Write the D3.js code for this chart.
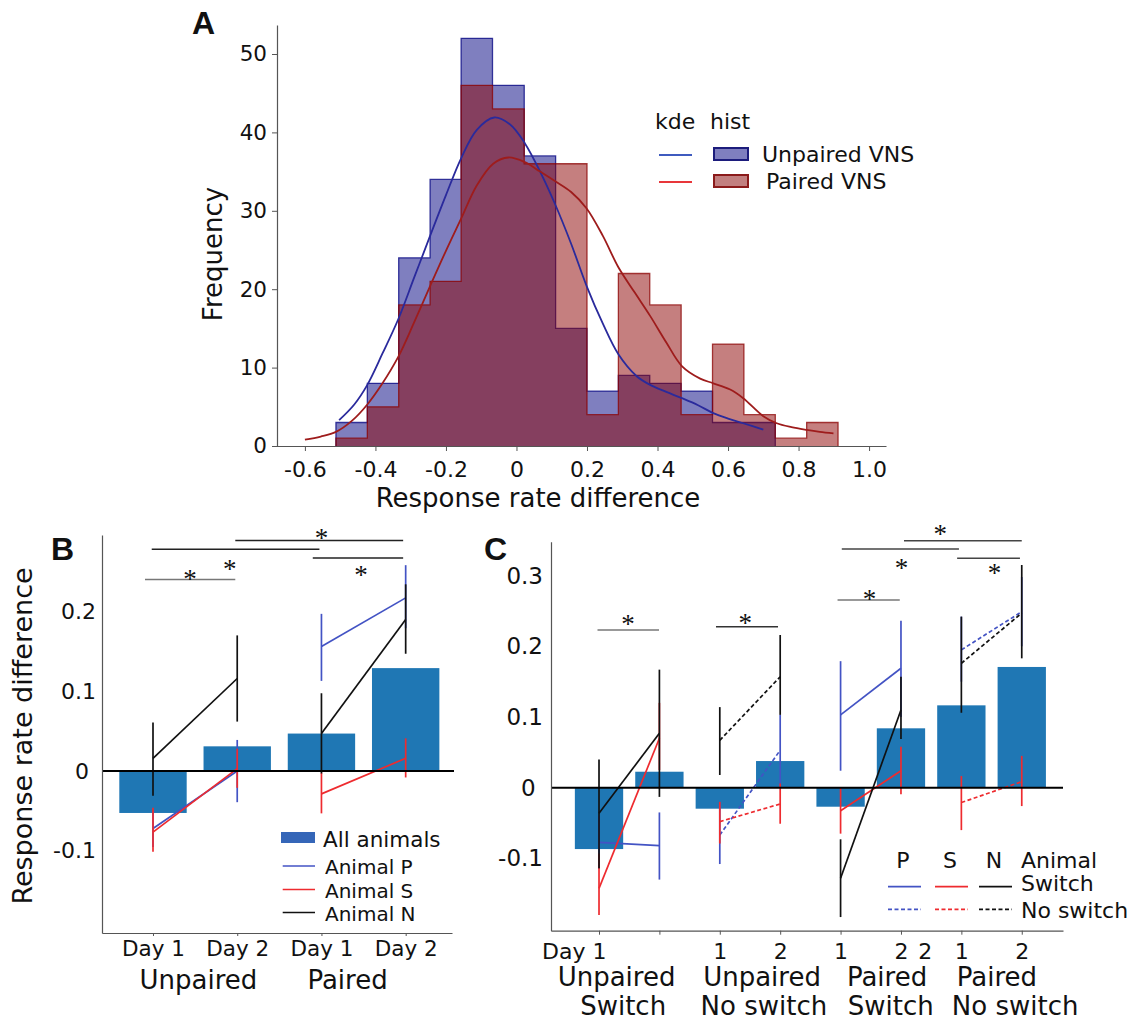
<!DOCTYPE html>
<html>
<head>
<meta charset="utf-8">
<script src="https://cdn.jsdelivr.net/npm/d3@7"></script>
<style>
  body { margin: 0; background: #fff; }
  svg text { font-family: "DejaVu Sans", Verdana, sans-serif; fill: #111; }
</style>
</head>
<body>
<div id="fig"></div>
<script>
// ---------- Panel A: histogram + kde ----------
const binEdges = [-0.512, -0.423, -0.334, -0.245, -0.157, -0.068, 0.022, 0.111, 0.200,
                  0.289, 0.378, 0.467, 0.556, 0.645, 0.734, 0.823, 0.912];
const unpairedCounts = [3, 8, 24, 34, 52, 46, 37, 15, 7, 9, 8, 7, 3, 3, 0, 0];
const pairedCounts   = [1, 5, 18, 21, 46, 43, 36, 36, 4, 22, 18, 4, 13, 4, 1, 3];

const kdeUnpairedX = [-0.503, -0.46, -0.423, -0.38, -0.335, -0.29, -0.245, -0.2, -0.157, -0.113,
                      -0.063, -0.018, 0.024, 0.067, 0.109, 0.155, 0.199, 0.245, 0.289, 0.341,
                      0.379, 0.425, 0.469, 0.515, 0.558, 0.6, 0.643, 0.7];
const kdeUnpairedY = [3.3, 5.3, 7.8, 11.8, 16.2, 21.5, 26.8, 32, 36.7, 40.3,
                      41.9, 41.0, 38.6, 35, 30.9, 25.8, 20.4, 15.6, 11.7, 8.9,
                      7.8, 6.9, 6.1, 5.2, 4.2, 3.5, 2.9, 2.1];
const kdePairedX = [-0.6, -0.555, -0.512, -0.467, -0.423, -0.38, -0.335, -0.29, -0.245, -0.2,
                    -0.157, -0.113, -0.066, -0.023, 0.024, 0.067, 0.109, 0.155, 0.199, 0.245,
                    0.289, 0.335, 0.379, 0.425, 0.469, 0.521, 0.558, 0.606, 0.643, 0.7,
                    0.738, 0.78, 0.823, 0.86, 0.899];
const kdePairedY = [0.8, 1.2, 1.8, 3.2, 5.3, 8.0, 11.4, 15.8, 20.4, 24.9,
                    29, 33.2, 36, 36.8, 36.2, 35.0, 33.8, 32.4, 30.3, 26.8,
                    22.8, 19.6, 16.6, 13.2, 10.2, 8.6, 8.0, 7.2, 6.1, 3.8,
                    2.9, 2.4, 2.05, 1.8, 1.6];

const xTicksA = [-0.6, -0.4, -0.2, 0, 0.2, 0.4, 0.6, 0.8, 1.0];
const xTickLabelsA = ["-0.6", "-0.4", "-0.2", "0", "0.2", "0.4", "0.6", "0.8", "1.0"];
const yTicksA = [0, 10, 20, 30, 40, 50];
const histSeries = ["Unpaired VNS", "Paired VNS"];

// ---------- Panel B ----------
const dayLabelsB = ["Day 1", "Day 2", "Day 1", "Day 2"];
const groupLabelsB = ["Unpaired", "Paired"];
const groupPosB = [0.54, 2.31];
const allAnimalsB = [-0.0525, 0.031, 0.047, 0.129];
const pMeanB = [-0.072, 0.0, 0.156, 0.217];
const pLoB   = [-0.095, -0.039, 0.113, 0.179];
const pHiB   = [-0.05, 0.039, 0.197, 0.258];
const sMeanB = [-0.0765, 0.003, -0.0286, 0.016];
const sLoB   = [-0.101, -0.021, -0.053, -0.008];
const sHiB   = [-0.046, 0.028, -0.002, 0.041];
const nMeanB = [0.016, 0.116, 0.047, 0.19];
const nLoB   = [-0.031, 0.062, -0.003, 0.147];
const nHiB   = [0.061, 0.170, 0.0975, 0.234];
const yTicksB = [-0.1, 0, 0.1, 0.2];
const yTickLabelsB = ["-0.1", "0\u00A0", "0.1", "0.2"];
// significance brackets: [from, to, y, colour], stars: [x, y]
const sigLinesB = [[-0.095, 0.977, 0.240, "#777"], [-0.015, 1.976, 0.278, "#222"],
                   [0.977, 2.97, 0.289, "#222"], [1.897, 2.97, 0.267, "#222"]];
const starsB = [[0.44, 0.248], [0.91, 0.261], [2.0, 0.299], [2.47, 0.2527]];
const legendB = ["All animals", "Animal P", "Animal S", "Animal N"];

// ---------- Panel C ----------
const tickLabelsC = ["Day 1", "", "1", "2", "1", "2", "1", "2"];
const extraTickC = [5.4];
const extraTickLabelC = ["2"];
const groupTopC = ["Unpaired", "Unpaired", "Paired", "Paired"];
const groupTopPosC = [0.29, 2.70, 4.77, 6.59];
const groupBottomC = ["Switch", "No switch", "Switch", "No switch"];
const groupBottomPosC = [0.40, 2.73, 4.83, 6.89];
const allAnimalsC = [-0.0868, 0.0226, -0.0297, 0.0377, -0.0269, 0.084, 0.1165, 0.1708];
const pMeanC = [-0.0774, -0.082, -0.067, 0.053, 0.103, 0.169, 0.195, 0.249];
const pLoC   = [-0.115, -0.13, -0.108, 0.0014, 0.024, 0.1, 0.15, 0.2];
const pHiC   = [-0.04, -0.035, -0.02, 0.103, 0.179, 0.236, 0.242, 0.298];
const sMeanC = [-0.1425, 0.07, -0.048, -0.023, -0.0325, 0.024, -0.021, 0.0085];
const sLoC   = [-0.18, 0.025, -0.079, -0.051, -0.065, -0.0094, -0.06, -0.026];
const sHiC   = [-0.093, 0.12, -0.02, 0.006, 0.001, 0.058, 0.0165, 0.045];
const nMeanC = [-0.036, 0.077, 0.067, 0.157, -0.128, 0.11, 0.176, 0.247];
const nLoC   = [-0.114, -0.013, 0.018, 0.103, -0.183, 0.069, 0.106, 0.183];
const nHiC   = [0.04, 0.167, 0.114, 0.216, -0.073, 0.157, 0.242, 0.315];
const dashedGroupC = [false, true, false, true];
const yTicksC = [-0.1, 0, 0.1, 0.2, 0.3];
const yTickLabelsC = ["-0.1", "0\u00A0", "0.1", "0.2", "0.3"];
const sigLinesC = [[-0.025, 0.994, 0.223, "#777"], [1.937, 2.964, 0.2277, "#333"],
                   [3.95, 4.98, 0.2655, "#777"], [4.02, 5.96, 0.3376, "#444"],
                   [5.05, 7.0, 0.3494, "#444"], [5.93, 6.97, 0.3245, "#444"]];
const starsC = [[0.48, 0.24], [2.42, 0.2414], [4.48, 0.2754], [5.01, 0.3197], [5.65, 0.3666], [6.55, 0.3126]];

const colP = "#4353c4", colS = "#ee2b2f", colN = "#111";
const barColor = "#1f77b4";
const FONT = "DejaVu Sans";

const svg = d3.select("#fig").append("svg")
    .attr("width", 1133)
    .attr("height", 1022);

function styleAxis(g, size) {
    g.attr("font-family", FONT).attr("font-size", size);
    g.select(".domain").attr("stroke", "#555").attr("stroke-width", 1.2);
    g.selectAll(".tick line").attr("stroke", "#555");
    g.selectAll(".tick text").attr("fill", "#111");
}

function panelLetter(x, y, t) {
    svg.append("text").attr("x", x).attr("y", y).text(t)
        .style("font-family", "Liberation Sans, Arial, sans-serif")
        .attr("font-weight", "bold").attr("font-size", 32);
}

// ================= Panel A =================
const xA = d3.scaleLinear().domain([-0.682, 1.048]).range([276, 886]);
const yA = d3.scaleLinear().domain([0, 53.7]).range([446, 25]);
const gA = svg.append("g");

function stepPoints(counts) {
    let last = counts.length - 1;
    while (last > 0 && counts[last] === 0) last--;
    const pts = [[binEdges[0], 0]];
    for (let i = 0; i <= last; i++) {
        pts.push([binEdges[i], counts[i]]);
        pts.push([binEdges[i + 1], counts[i]]);
    }
    pts.push([binEdges[last + 1], 0]);
    return pts;
}
const stepLine = d3.line().x(d => xA(d[0])).y(d => yA(d[1]));

[[unpairedCounts, "#000080"], [pairedCounts, "#8b0000"]].forEach(([counts, col]) => {
    const pts = stepPoints(counts);
    gA.append("path").attr("d", stepLine(pts) + "Z")
        .attr("fill", col).attr("fill-opacity", 0.5);
    gA.append("path").attr("d", stepLine(pts))
        .attr("fill", "none").attr("stroke", col)
        .attr("stroke-opacity", 0.75).attr("stroke-width", 1.3);
});

const kdeLine = d3.line().curve(d3.curveCatmullRom.alpha(0.5)).x(d => xA(d[0])).y(d => yA(d[1]));
gA.append("path").attr("d", kdeLine(d3.zip(kdeUnpairedX, kdeUnpairedY)))
    .attr("fill", "none").attr("stroke", "#2a2a9c").attr("stroke-width", 1.8);
gA.append("path").attr("d", kdeLine(d3.zip(kdePairedX, kdePairedY)))
    .attr("fill", "none").attr("stroke", "#9e1c1c").attr("stroke-width", 1.8);

gA.append("g").attr("transform", "translate(0,446)")
    .call(d3.axisBottom(xA).tickValues(xTicksA).tickSize(5).tickSizeOuter(0).tickPadding(10)
        .tickFormat((d, i) => xTickLabelsA[i]))
    .call(g => styleAxis(g, 22));
gA.append("g").attr("transform", "translate(277,0)")
    .call(d3.axisLeft(yA).tickValues(yTicksA).tickSize(5).tickSizeOuter(0).tickPadding(5)
        .tickFormat(d3.format("d")))
    .call(g => styleAxis(g, 21.5));

gA.append("text").attr("x", 538).attr("y", 507).attr("text-anchor", "middle")
    .attr("font-size", 26).text("Response rate difference");
gA.append("text").attr("transform", "translate(222,254) rotate(-90)")
    .attr("text-anchor", "middle").attr("font-size", 26).text("Frequency");

// legend A
const legA = gA.append("g");
legA.append("text").attr("x", 655).attr("y", 129).attr("font-size", 22).text("kde");
legA.append("text").attr("x", 710).attr("y", 129).attr("font-size", 22).text("hist");
const legAColors = [["#3f5bbf", "#7f7fbf", "#1c1c7c"], ["#e8363a", "#c27f7f", "#8b1a1a"]];
histSeries.forEach((name, i) => {
    const cy = 154 + i * 27;
    legA.append("line").attr("x1", 659).attr("x2", 692).attr("y1", cy + 1).attr("y2", cy + 1)
        .attr("stroke", legAColors[i][0]).attr("stroke-width", 1.8);
    legA.append("rect").attr("x", 714).attr("y", cy - 6).attr("width", 34).attr("height", 12)
        .attr("fill", legAColors[i][1]).attr("stroke", legAColors[i][2]).attr("stroke-width", 2);
    legA.append("text").attr("x", 762 + i * 4).attr("y", cy + 8).attr("font-size", 22).text(name);
});
panelLetter(192, 34, "A");

// ================= Panel B =================
const xB = d3.scaleLinear().domain([-0.6055, 3.55]).range([102, 452]);
const yB = d3.scaleLinear().domain([-0.2029, 0.2958]).range([933, 535]);
const stepB = xB(1) - xB(0);
const gB = svg.append("g");

gB.selectAll("rect.bar").data(allAnimalsB).enter().append("rect")
    .attr("class", "bar")
    .attr("x", (d, i) => xB(i) - stepB * 0.4)
    .attr("width", stepB * 0.8)
    .attr("y", d => yB(Math.max(0, d)))
    .attr("height", d => Math.abs(yB(d) - yB(0)))
    .attr("fill", barColor);

function drawAnimal(g, xs, ys, mean, lo, hi, col, pairs, dashed) {
    mean.forEach((m, i) => {
        g.append("line").attr("x1", xs(i)).attr("x2", xs(i))
            .attr("y1", ys(lo[i])).attr("y2", ys(hi[i]))
            .attr("stroke", col).attr("stroke-width", 1.7);
    });
    pairs.forEach(([a, b], k) => {
        g.append("line").attr("x1", xs(a)).attr("x2", xs(b))
            .attr("y1", ys(mean[a])).attr("y2", ys(mean[b]))
            .attr("stroke", col).attr("stroke-width", 1.7)
            .attr("stroke-dasharray", dashed && dashed[k] ? "4,2.5" : null);
    });
}
const pairsB = [[0, 1], [2, 3]];
drawAnimal(gB, xB, yB, pMeanB, pLoB, pHiB, colP, pairsB);
drawAnimal(gB, xB, yB, sMeanB, sLoB, sHiB, colS, pairsB);
drawAnimal(gB, xB, yB, nMeanB, nLoB, nHiB, colN, pairsB);

gB.append("line").attr("x1", 102).attr("x2", 454).attr("y1", yB(0)).attr("y2", yB(0))
    .attr("stroke", "#000").attr("stroke-width", 2);

gB.append("g").attr("transform", "translate(0,933)")
    .call(d3.axisBottom(xB).tickValues([0, 1, 2, 3]).tickSize(3).tickSizeOuter(0).tickPadding(5)
        .tickFormat((d, i) => dayLabelsB[i]))
    .call(g => styleAxis(g, 21.5));
gB.append("g").attr("transform", "translate(102,0)")
    .call(d3.axisLeft(yB).tickValues(yTicksB).tickSize(0).tickSizeOuter(0).tickPadding(6)
        .tickFormat((d, i) => yTickLabelsB[i]))
    .call(g => styleAxis(g, 22));

groupLabelsB.forEach((t, i) => {
    gB.append("text").attr("x", xB(groupPosB[i])).attr("y", 989).attr("text-anchor", "middle")
        .attr("font-size", 26).text(t);
});
gB.append("text").attr("transform", "translate(32,736) rotate(-90)")
    .attr("text-anchor", "middle").attr("font-size", 27).text("Response rate difference");

sigLinesB.forEach(([a, b, y, c]) => {
    gB.append("line").attr("x1", xB(a)).attr("x2", xB(b)).attr("y1", yB(y)).attr("y2", yB(y))
        .attr("stroke", c).attr("stroke-width", 1.6);
});
starsB.forEach(([x, y]) => {
    gB.append("text").attr("x", xB(x)).attr("y", yB(y)).attr("dy", "0.55em")
        .attr("text-anchor", "middle").style("font-family", "Liberation Serif, serif")
        .attr("font-size", 27).text("*");
});

// legend B
const legB = gB.append("g").attr("transform", "translate(281,0)");
legB.append("rect").attr("x", 0).attr("y", 832).attr("width", 34).attr("height", 11).attr("fill", "#3566b8");
legB.append("text").attr("x", 42).attr("y", 847).attr("font-size", 21.5).text(legendB[0]);
[colP, colS, colN].forEach((c, i) => {
    const ly = [866, 889.5, 912.5][i];
    legB.append("line").attr("x1", 1.7).attr("x2", 34).attr("y1", ly).attr("y2", ly)
        .attr("stroke", c).attr("stroke-width", 1.7);
    legB.append("text").attr("x", 44).attr("y", ly + 8).attr("font-size", 20).text(legendB[i + 1]);
});
panelLetter(51, 560, "B");

// ================= Panel C =================
const xC = d3.scaleLinear().domain([-0.795, 7.683]).range([551, 1063]);
const yC = d3.scaleLinear().domain([-0.2023, 0.348]).range([930.7, 541.7]);
const stepC = xC(1) - xC(0);
const gC = svg.append("g");

gC.selectAll("rect.bar").data(allAnimalsC).enter().append("rect")
    .attr("class", "bar")
    .attr("x", (d, i) => xC(i) - stepC * 0.4)
    .attr("width", stepC * 0.8)
    .attr("y", d => yC(Math.max(0, d)))
    .attr("height", d => Math.abs(yC(d) - yC(0)))
    .attr("fill", barColor);

const pairsC = [[0, 1], [2, 3], [4, 5], [6, 7]];
drawAnimal(gC, xC, yC, pMeanC, pLoC, pHiC, colP, pairsC, dashedGroupC);
drawAnimal(gC, xC, yC, sMeanC, sLoC, sHiC, colS, pairsC, dashedGroupC);
drawAnimal(gC, xC, yC, nMeanC, nLoC, nHiC, colN, pairsC, dashedGroupC);

gC.append("line").attr("x1", 551).attr("x2", 1063).attr("y1", yC(0)).attr("y2", yC(0))
    .attr("stroke", "#000").attr("stroke-width", 2);

const axC = gC.append("g").attr("transform", "translate(0,930.7)")
    .call(d3.axisBottom(xC).tickValues(d3.range(8)).tickSize(4).tickSizeOuter(0).tickPadding(9)
        .tickFormat((d, i) => tickLabelsC[i]))
    .call(g => styleAxis(g, 22));
axC.selectAll(".tick text").filter((d, i) => i === 0)
    .attr("text-anchor", "end").attr("dx", 7);
extraTickC.forEach((v, i) => {
    gC.append("text").attr("x", xC(v)).attr("y", 930.7 + 13).attr("dy", "0.71em")
        .attr("text-anchor", "middle").attr("font-size", 22).text(extraTickLabelC[i]);
});
gC.append("g").attr("transform", "translate(551,0)")
    .call(d3.axisLeft(yC).tickValues(yTicksC).tickSize(0).tickSizeOuter(0).tickPadding(8)
        .tickFormat((d, i) => yTickLabelsC[i]))
    .call(g => styleAxis(g, 23));

groupTopC.forEach((t, i) => {
    gC.append("text").attr("x", xC(groupTopPosC[i])).attr("y", 986).attr("text-anchor", "middle")
        .attr("font-size", 26).text(t);
    gC.append("text").attr("x", xC(groupBottomPosC[i])).attr("y", 1015).attr("text-anchor", "middle")
        .attr("font-size", 26).text(groupBottomC[i]);
});

sigLinesC.forEach(([a, b, y, c]) => {
    gC.append("line").attr("x1", xC(a)).attr("x2", xC(b)).attr("y1", yC(y)).attr("y2", yC(y))
        .attr("stroke", c).attr("stroke-width", 1.6);
});
starsC.forEach(([x, y]) => {
    gC.append("text").attr("x", xC(x)).attr("y", yC(y)).attr("dy", "0.55em")
        .attr("text-anchor", "middle").style("font-family", "Liberation Serif, serif")
        .attr("font-size", 27).text("*");
});

// legend C
const legC = gC.append("g");
const legCx = [888, 935, 979];
["P", "S", "N"].forEach((t, i) => {
    const c = [colP, colS, colN][i];
    legC.append("text").attr("x", legCx[i] + 15).attr("y", 868).attr("text-anchor", "middle")
        .attr("font-size", 22).text(t);
    legC.append("line").attr("x1", legCx[i]).attr("x2", legCx[i] + 33).attr("y1", 886.7).attr("y2", 886.7)
        .attr("stroke", c).attr("stroke-width", 1.7);
    legC.append("line").attr("x1", legCx[i]).attr("x2", legCx[i] + 33).attr("y1", 909.3).attr("y2", 909.3)
        .attr("stroke", c).attr("stroke-width", 1.7).attr("stroke-dasharray", "4,2.5");
});
legC.append("text").attr("x", 1021).attr("y", 868).attr("font-size", 22).text("Animal");
legC.append("text").attr("x", 1021).attr("y", 891).attr("font-size", 22).text("Switch");
legC.append("text").attr("x", 1021).attr("y", 918).attr("font-size", 22).text("No switch");
panelLetter(484, 560, "C");
</script>
</body>
</html>
